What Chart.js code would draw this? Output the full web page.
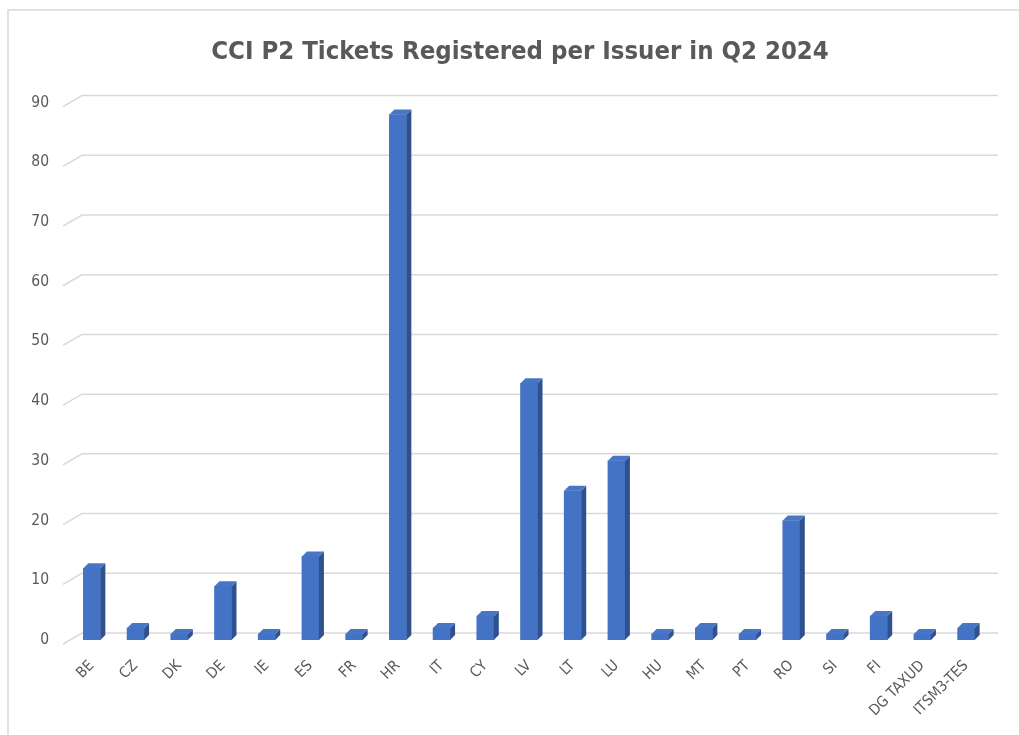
<!DOCTYPE html>
<html>
<head>
    <style>
        body, html {
            margin: 0;
            padding: 0;
            background: #ffffff;
        }
    </style>
    <script src="https://cdn.jsdelivr.net/npm/chart.js"></script>
</head>
<body>
    <canvas id="ticketChart" width="1019" height="735"></canvas>

    <script>
        const issuers = ["BE", "CZ", "DK", "DE", "IE", "ES", "FR", "HR", "IT", "CY", "LV",
                         "LT", "LU", "HU", "MT", "PT", "RO", "SI", "FI", "DG TAXUD", "ITSM3-TES"];
        const tickets = [12, 2, 1, 9, 1, 14, 1, 88, 2, 4, 43, 25, 30, 1, 2, 1, 20, 1, 4, 1, 2];
        const yTicks = [0, 10, 20, 30, 40, 50, 60, 70, 80, 90];

        const labelFont = "'Liberation Sans Narrow', 'DejaVu Sans Condensed', 'Liberation Sans', sans-serif";
        const textColor = "#595959";

        // frame, back-wall gridlines and the little floor diagonals
        const backdrop = {
            id: "backdrop",
            beforeDraw(chart) {
                const ctx = chart.ctx;
                ctx.save();
                ctx.fillStyle = "#ffffff";
                ctx.fillRect(0, 0, chart.width, chart.height);
                ctx.strokeStyle = "#d9d9d9";
                ctx.lineWidth = 1.5;
                ctx.beginPath();
                ctx.moveTo(8, chart.height);
                ctx.lineTo(8, 10);
                ctx.lineTo(chart.width, 10);
                ctx.stroke();
                ctx.restore();
            },
            beforeDatasetsDraw(chart) {
                const ctx = chart.ctx;
                const y = chart.scales.y;
                const area = chart.chartArea;
                ctx.save();
                ctx.strokeStyle = "#d9d9d9";
                ctx.lineWidth = 1.5;
                yTicks.forEach(v => {
                    const py = y.getPixelForValue(v);
                    ctx.beginPath();
                    ctx.moveTo(area.left - 7, py + 4);
                    ctx.lineTo(area.left + 12, py - 7);
                    ctx.lineTo(area.right + 10, py - 7);
                    ctx.stroke();
                });
                ctx.restore();
            }
        };

        // side and top faces so the bars look like Excel's 3D columns
        const depthFaces = {
            id: "depthFaces",
            afterDatasetsDraw(chart) {
                const ctx = chart.ctx;
                const dx = 5, dy = 5;
                ctx.save();
                chart.getDatasetMeta(0).data.forEach(bar => {
                    const half = bar.width / 2;
                    const l = bar.x - half, r = bar.x + half;
                    const top = bar.y, base = bar.base;
                    ctx.fillStyle = "#2f528f";
                    ctx.beginPath();
                    ctx.moveTo(r, top);
                    ctx.lineTo(r + dx, top - dy);
                    ctx.lineTo(r + dx, base - dy);
                    ctx.lineTo(r, base);
                    ctx.closePath();
                    ctx.fill();
                    ctx.fillStyle = "#4876c6";
                    ctx.beginPath();
                    ctx.moveTo(l, top);
                    ctx.lineTo(l + dx, top - dy);
                    ctx.lineTo(r + dx, top - dy);
                    ctx.lineTo(r, top);
                    ctx.closePath();
                    ctx.fill();
                });
                ctx.restore();
            }
        };

        new Chart(document.getElementById("ticketChart"), {
            type: "bar",
            data: {
                labels: issuers,
                datasets: [{
                    label: "Tickets",
                    data: tickets,
                    backgroundColor: "#4472c4",
                    borderWidth: 0,
                    barThickness: 17
                }]
            },
            options: {
                responsive: false,
                animation: false,
                layout: {
                    padding: { left: 21, right: 0, top: 0, bottom: 0 }
                },
                plugins: {
                    legend: { display: false },
                    tooltip: { enabled: false },
                    title: {
                        display: true,
                        text: "CCI P2 Tickets Registered per Issuer in Q2 2024",
                        color: textColor,
                        font: { family: labelFont, size: 25.5, weight: "bold" },
                        padding: { top: 37, bottom: 35 }
                    }
                },
                scales: {
                    x: {
                        grid: { display: false, drawTicks: false },
                        border: { display: false },
                        ticks: {
                            color: textColor,
                            font: { family: labelFont, size: 15 },
                            minRotation: 45,
                            maxRotation: 45,
                            autoSkip: false,
                            padding: 17
                        },
                        afterFit(scale) { scale.height = 95; }
                    },
                    y: {
                        min: 0,
                        max: 90,
                        grid: { display: false, drawTicks: false },
                        border: { display: false },
                        ticks: {
                            stepSize: 10,
                            color: textColor,
                            font: { family: labelFont, size: 15.5 },
                            padding: 21
                        },
                        afterFit(scale) { scale.width = 49; }
                    },
                    // empty spacer on the right so the plot stops where Excel's does
                    spacer: {
                        type: "linear",
                        position: "right",
                        display: true,
                        grid: { display: false, drawTicks: false },
                        border: { display: false },
                        ticks: { display: false },
                        afterFit(scale) { scale.width = 31; }
                    }
                }
            },
            plugins: [backdrop, depthFaces]
        });
    </script>
</body>
</html>
